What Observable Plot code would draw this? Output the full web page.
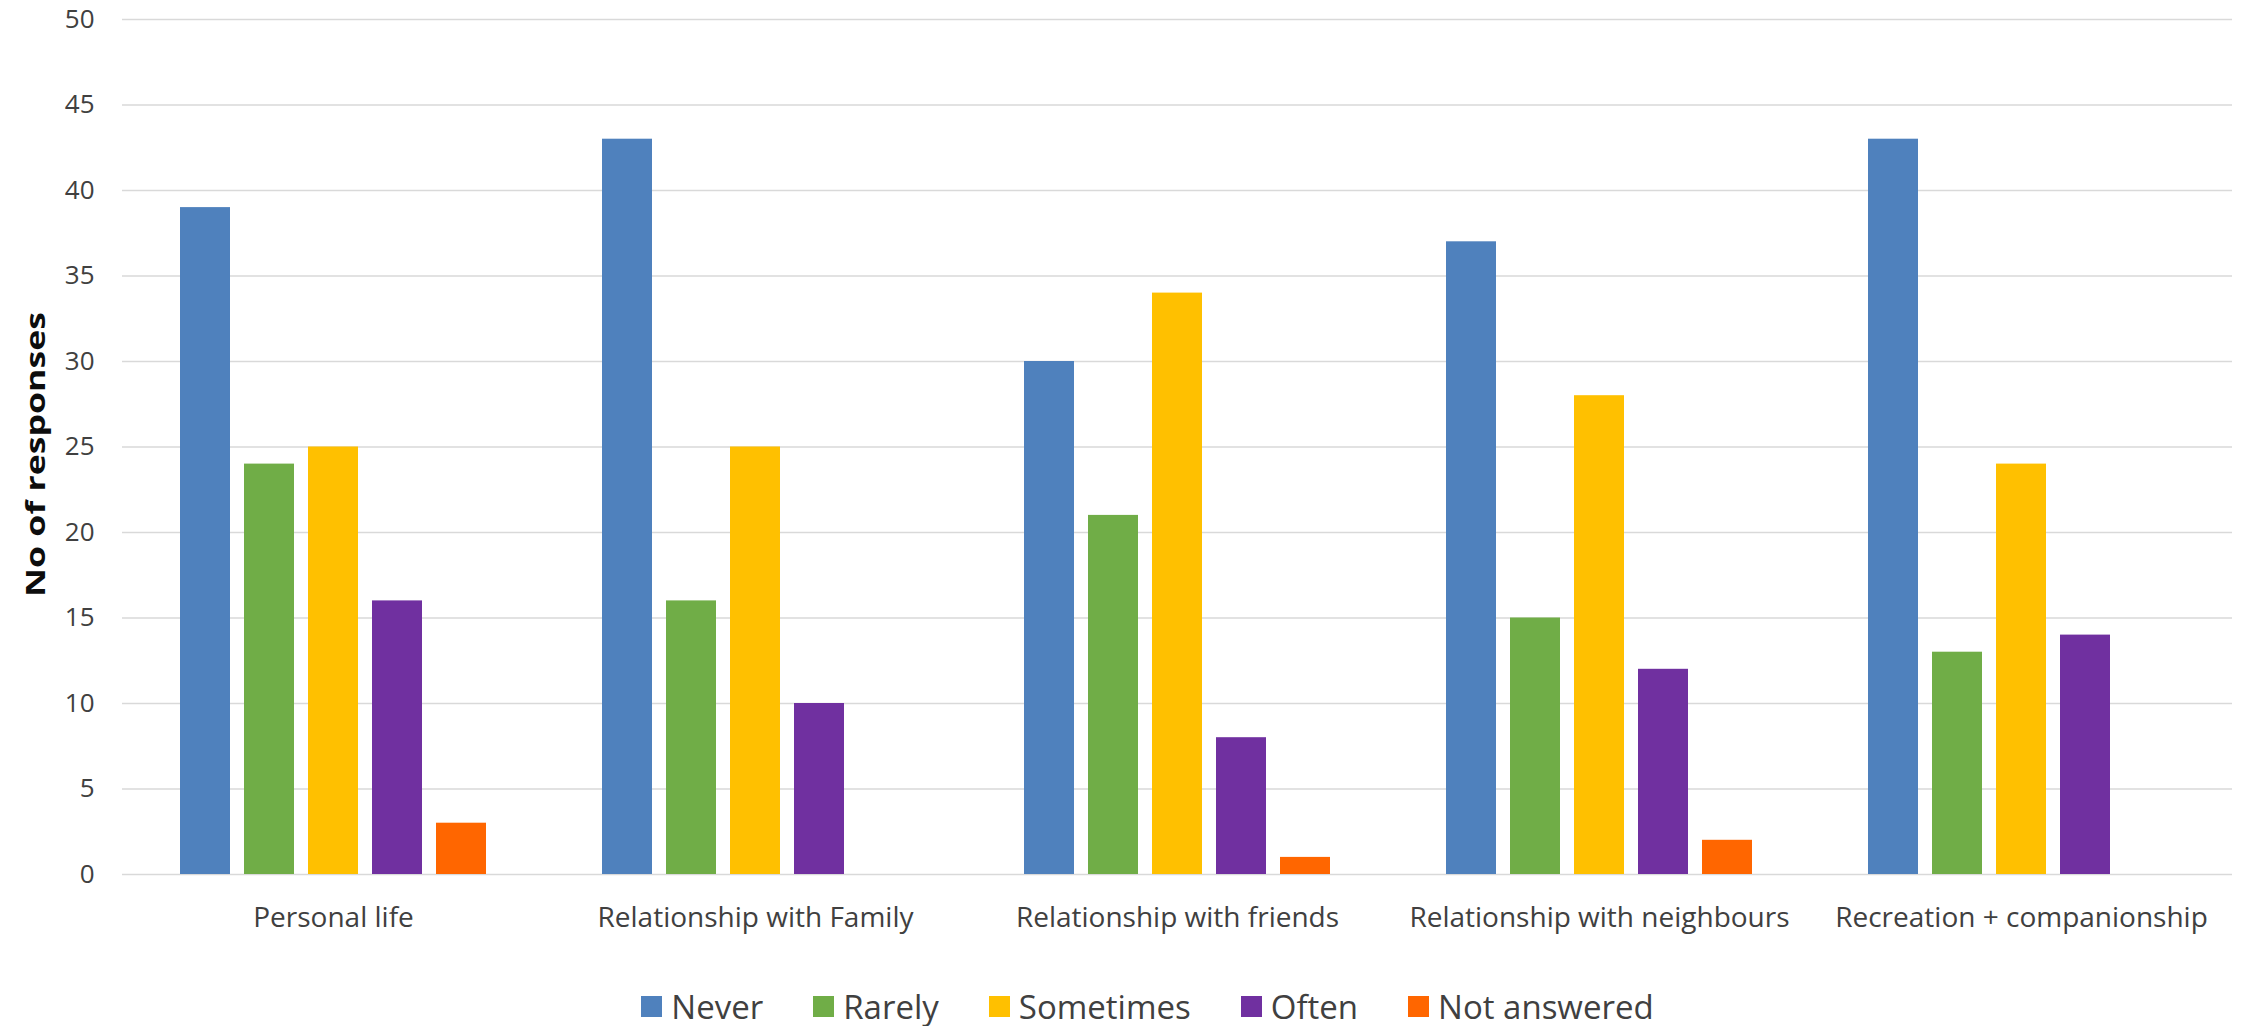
<!DOCTYPE html>
<html>
<head>
<meta charset="utf-8">
<script src="https://cdn.jsdelivr.net/npm/d3@7"></script>
<script src="https://cdn.jsdelivr.net/npm/@observablehq/plot@0.6"></script>
<style>
  html, body { margin: 0; padding: 0; background: #ffffff; overflow: hidden; }
  #wrap { position: relative; width: 2241px; height: 1026px; }
  #legend {
    position: absolute; left: 0; top: 990px; width: 2241px;
    display: flex; justify-content: center; align-items: center;
    transform: translateX(27px);
    font-family: "Open Sans", sans-serif; font-size: 33px; color: #404040;
  }
  .item { display: flex; align-items: center; margin: 0 25px; }
  .sw { width: 21px; height: 21px; margin-right: 9px; }
  .lab { line-height: 1; }
</style>
</head>
<body>
<div id="wrap">
  <div id="chart"></div>
  <div id="legend"></div>
</div>
<script>
const categories = ["Personal life", "Relationship with Family", "Relationship with friends", "Relationship with neighbours", "Recreation + companionship"];
const series = ["Never", "Rarely", "Sometimes", "Often", "Not answered"];
const never = [39, 43, 30, 37, 43];
const rarely = [24, 16, 21, 15, 13];
const sometimes = [25, 25, 34, 28, 24];
const often = [16, 10, 8, 12, 14];
const notAnswered = [3, null, 1, 2, null];
const colors = ["#4f81bd", "#70ad47", "#ffc000", "#7030a0", "#ff6600"];
const yTicks = [0, 5, 10, 15, 20, 25, 30, 35, 40, 45, 50];
const yTitle = "No of responses";

const seriesValues = [never, rarely, sometimes, often, notAnswered];
const data = [];
categories.forEach((c, i) => {
  series.forEach((s, j) => {
    const v = seriesValues[j][i];
    if (v != null) data.push({category: c, series: s, value: v});
  });
});

const H = 960, MT = 19, MB = 86;
const chart = Plot.plot({
  width: 2241,
  height: H,
  marginLeft: 121,
  marginRight: 8,
  marginTop: MT,
  marginBottom: MB,
  style: {fontFamily: "Open Sans, sans-serif", fontSize: "26px", color: "#404040", background: "#ffffff"},
  fx: {domain: categories, padding: 0, axis: "bottom", tickSize: 0, tickPadding: 33, label: null},
  x: {domain: series, axis: null, paddingInner: 0.2154, paddingOuter: 0.857},
  y: {domain: [0, 50], ticks: yTicks, tickSize: 0, tickPadding: 28, label: null},
  color: {domain: series, range: colors},
  marks: [
    Plot.ruleY(yTicks, {stroke: "#d9d9d9", strokeWidth: 1.7}),
    Plot.barY(data, {fx: "category", x: "series", y: "value", fill: "series"})
  ]
});
document.getElementById("chart").appendChild(chart);

const svg = d3.select(chart);
svg.selectAll('[aria-label^="fx-axis"] text').attr("font-size", 28);

// y-axis title
svg.append("text")
  .attr("transform", "translate(45,454.5) rotate(-90)")
  .attr("text-anchor", "middle")
  .attr("font-family", "Open Sans, sans-serif")
  .attr("font-size", 27)
  .attr("font-weight", "bold")
  .attr("fill", "#0d0d0d")
  .attr("textLength", 285)
  .attr("lengthAdjust", "spacingAndGlyphs")
  .text(yTitle);

const legend = d3.select("#legend");
series.forEach((s, i) => {
  const it = legend.append("div").attr("class", "item");
  it.append("div").attr("class", "sw").style("background", colors[i]);
  it.append("div").attr("class", "lab").text(s);
});
</script>
</body>
</html>
